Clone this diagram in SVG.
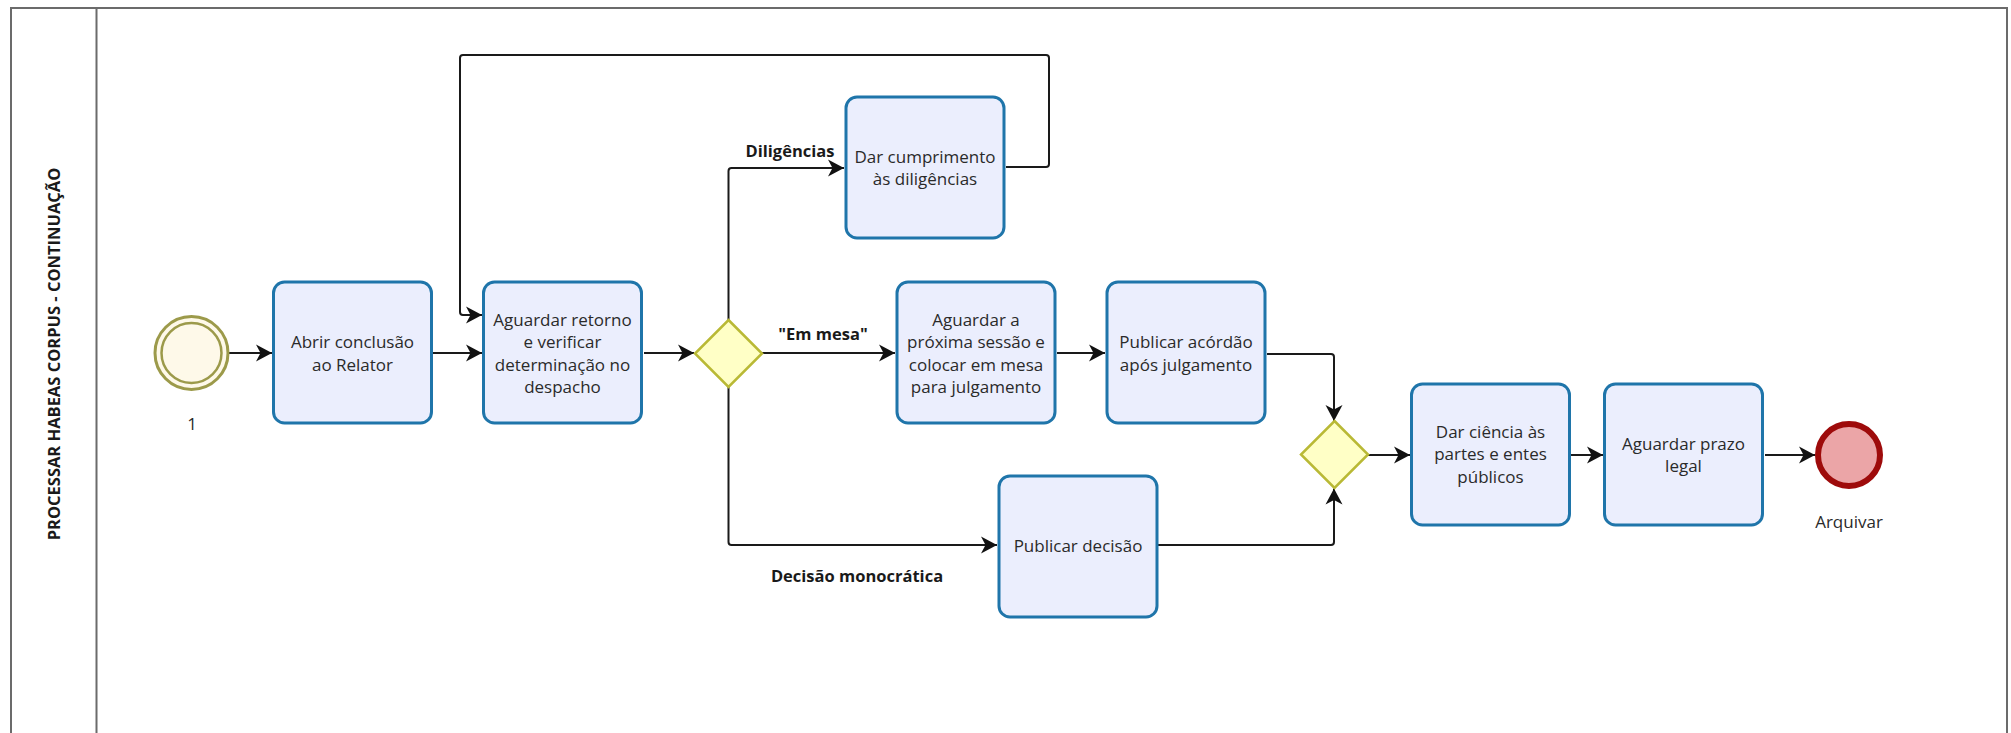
<svg xmlns="http://www.w3.org/2000/svg" width="2011" height="733" viewBox="0 0 2011 733">
  <defs>
    <marker id="arr" markerUnits="userSpaceOnUse" viewBox="-17 -10 18 20" refX="0" refY="0" markerWidth="18" markerHeight="20" orient="auto">
      <path d="M-16,-8.5 L0,0 L-16,8.5 L-11.5,0 Z" fill="#111"/>
    </marker>
    <style>
      .task { fill: #EBEEFD; stroke: #1F75AA; stroke-width: 3; }
      .gw { fill: #FFFFC6; stroke: #B9B935; stroke-width: 2.5; }
      .conn { fill: none; stroke: #1a1a1a; stroke-width: 2; marker-end: url(#arr); }
      .t { font-family: "Open Sans", "Liberation Sans", sans-serif; font-size: 17px; fill: #2a2a2a; text-anchor: middle; dominant-baseline: central; }
      .lbl { font-family: "Open Sans", "Liberation Sans", sans-serif; font-size: 16.5px; font-weight: bold; fill: #1a1a1a; text-anchor: middle; dominant-baseline: central; }
    </style>
  </defs>
  <rect width="2011" height="733" fill="#ffffff"/>

  <g id="pool">
    <rect x="11" y="8" width="1996" height="740" fill="none" stroke="#6b6b6b" stroke-width="2"/>
    <line x1="96.5" y1="8" x2="96.5" y2="733" stroke="#6b6b6b" stroke-width="2"/>
    <text class="lbl" transform="translate(53,354) rotate(-90)" x="0" y="0">PROCESSAR HABEAS CORPUS - CONTINUAÇÃO</text>
  </g>

  <g id="connectors">
    <path class="conn" d="M229,353 L272,353"/>
    <path class="conn" d="M433,353 L482,353"/>
    <path class="conn" d="M644,353 L694,353"/>
    <path class="conn" d="M728.5,320 L728.5,171 Q728.5,168 731.5,168 L844,168"/>
    <path class="conn" d="M762,353 L895,353"/>
    <path class="conn" d="M728.5,387 L728.5,542 Q728.5,545 731.5,545 L997,545"/>
    <path class="conn" d="M1006,167 L1046,167 Q1049,167 1049,164 L1049,58 Q1049,55 1046,55 L463,55 Q460,55 460,58 L460,312 Q460,315 463,315 L482,315"/>
    <path class="conn" d="M1057,353 L1105,353"/>
    <path class="conn" d="M1267,354 L1331,354 Q1334,354 1334,357 L1334,421"/>
    <path class="conn" d="M1158,545 L1331,545 Q1334,545 1334,542 L1334,488.5"/>
    <path class="conn" d="M1368,455 L1410,455"/>
    <path class="conn" d="M1570,455 L1603,455"/>
    <path class="conn" d="M1765,455 L1815,455"/>
    <text class="lbl" x="790" y="150">Diligências</text>
    <text class="lbl" x="823" y="333">"Em mesa"</text>
    <text class="lbl" x="857" y="575">Decisão monocrática</text>
  </g>

  <g id="start">
    <circle cx="191.5" cy="353" r="36.5" fill="#FEF9E9" stroke="#9C9A4A" stroke-width="3"/>
    <circle cx="191.5" cy="353" r="30" fill="none" stroke="#9C9A4A" stroke-width="2.5"/>
    <text class="t" x="192" y="423">1</text>
  </g>

  <g id="task-abrir">
    <rect class="task" x="273.5" y="282" width="158" height="141" rx="11"/>
    <text class="t" x="352.5" y="341">Abrir conclusão</text>
    <text class="t" x="352.5" y="364">ao Relator</text>
  </g>

  <g id="task-aguardar-retorno">
    <rect class="task" x="483.5" y="282" width="158" height="141" rx="11"/>
    <text class="t" x="562.5" y="319">Aguardar retorno</text>
    <text class="t" x="562.5" y="341.5">e verificar</text>
    <text class="t" x="562.5" y="364">determinação no</text>
    <text class="t" x="562.5" y="386.5">despacho</text>
  </g>

  <g id="gateway-1">
    <polygon class="gw" points="728.5,320 762,353.5 728.5,387 695,353.5"/>
  </g>

  <g id="task-cumprimento">
    <rect class="task" x="846" y="97" width="158" height="141" rx="11"/>
    <text class="t" x="925" y="156.5">Dar cumprimento</text>
    <text class="t" x="925" y="178">às diligências</text>
  </g>

  <g id="task-proxima-sessao">
    <rect class="task" x="897" y="282" width="158" height="141" rx="11"/>
    <text class="t" x="976" y="319">Aguardar a</text>
    <text class="t" x="976" y="341.5">próxima sessão e</text>
    <text class="t" x="976" y="364">colocar em mesa</text>
    <text class="t" x="976" y="386.5">para julgamento</text>
  </g>

  <g id="task-publicar-acordao">
    <rect class="task" x="1107" y="282" width="158" height="141" rx="11"/>
    <text class="t" x="1186" y="341">Publicar acórdão</text>
    <text class="t" x="1186" y="364">após julgamento</text>
  </g>

  <g id="task-publicar-decisao">
    <rect class="task" x="999" y="476" width="158" height="141" rx="11"/>
    <text class="t" x="1078" y="545">Publicar decisão</text>
  </g>

  <g id="gateway-2">
    <polygon class="gw" points="1334.5,421 1368,454.5 1334.5,488 1301,454.5"/>
  </g>

  <g id="task-dar-ciencia">
    <rect class="task" x="1411.5" y="384" width="158" height="141" rx="11"/>
    <text class="t" x="1490.5" y="431">Dar ciência às</text>
    <text class="t" x="1490.5" y="453.5">partes e entes</text>
    <text class="t" x="1490.5" y="476">públicos</text>
  </g>

  <g id="task-aguardar-prazo">
    <rect class="task" x="1604.5" y="384" width="158" height="141" rx="11"/>
    <text class="t" x="1683.5" y="443">Aguardar prazo</text>
    <text class="t" x="1683.5" y="465">legal</text>
  </g>

  <g id="end">
    <circle cx="1849" cy="455" r="31" fill="#EBA5A7" stroke="#9E0B0B" stroke-width="6"/>
    <text class="t" x="1849" y="521">Arquivar</text>
  </g>
</svg>
